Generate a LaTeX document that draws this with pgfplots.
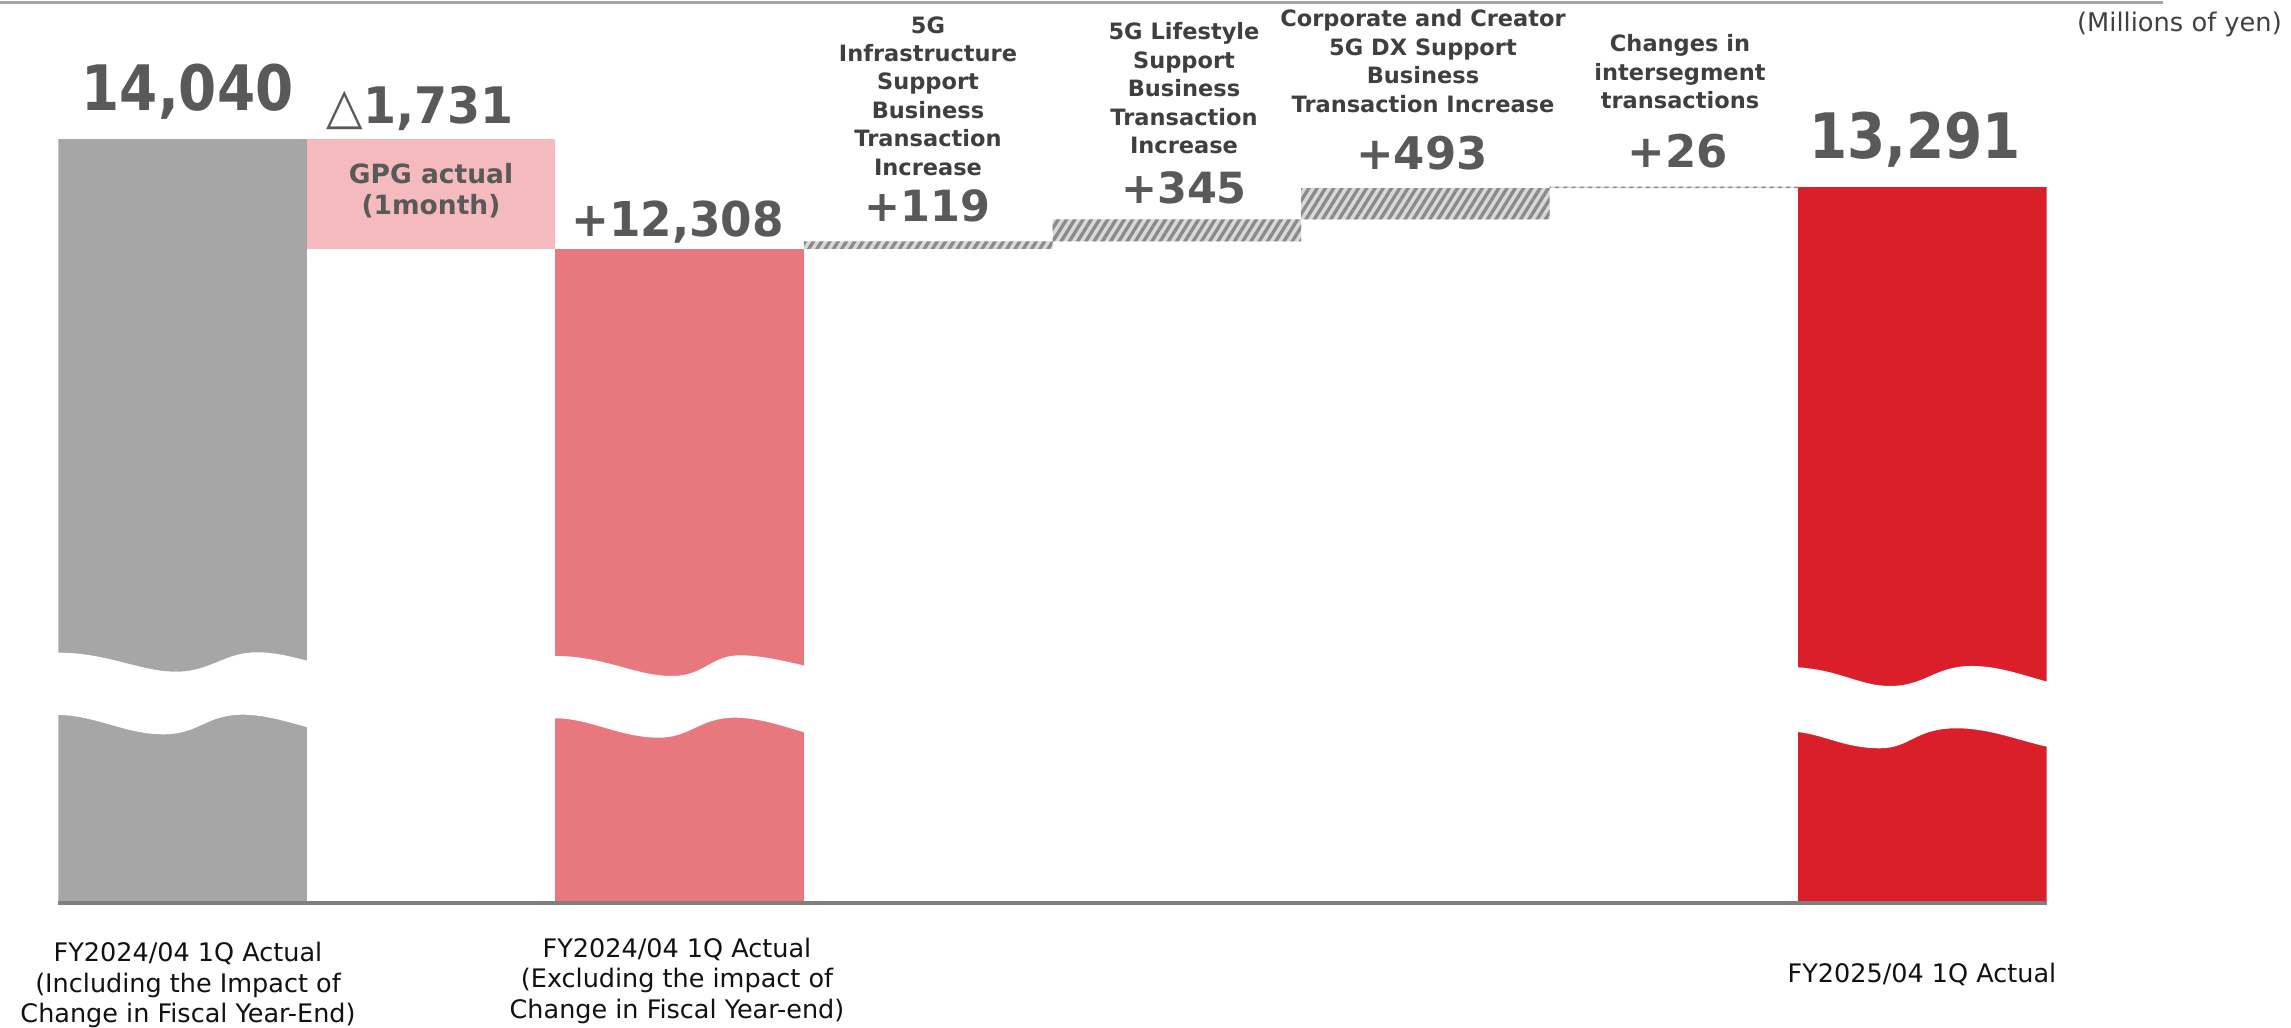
\documentclass[border=0pt]{standalone}
\usepackage{fontspec}
\setmainfont{DejaVu Sans}
\usepackage{graphicx}
\usepackage{pgfplots}
\usepackage{pgfplotstable}
\pgfplotsset{compat=1.18}
\usetikzlibrary{patterns.meta}

\definecolor{cgray}{HTML}{A6A6A6}
\definecolor{cpink}{HTML}{F4BABE}
\definecolor{csalmon}{HTML}{E8787E}
\definecolor{cred}{HTML}{DA1F2A}
\definecolor{hbg}{HTML}{D9D9D9}
\definecolor{hfg}{HTML}{8A8A8A}
\definecolor{numc}{HTML}{595959}
\definecolor{descc}{HTML}{3F3F3F}
\definecolor{axc}{HTML}{7F7F7F}
\definecolor{unitc}{HTML}{404040}
\definecolor{labc}{HTML}{111111}

\newcommand{\fs}[1]{\fontsize{#1bp}{#1bp}\selectfont}

\pgfplotstableread{
x base gray pink salmon hatch red
0 0     14040 0    0     0   0
1 12308 0     1731 0     0   0
2 0     0     0    12308 0   0
3 12308 0     0    0     119 0
4 12427 0     0    0     345 0
5 12772 0     0    0     493 0
6 13265 0     0    0     26  0
7 0     0     0    0     0   13291
}\data

\begin{document}
\begin{tikzpicture}
\path[use as bounding box] (0,0) rectangle (2291bp,1028bp);
\begin{axis}[
  at={(58.3bp,127bp)}, anchor=south west,
  scale only axis, width=1988.4bp, height=772.2bp,
  xmin=-0.5, xmax=7.5, ymin=2042, ymax=14200,
  hide axis, ybar stacked, bar width=1,
]
\addplot[draw=none, fill=none] table[x=x,y=base]{\data};
\addplot[draw=none, fill=cgray] table[x=x,y=gray]{\data};
\addplot[draw=none, fill=cpink] table[x=x,y=pink]{\data};
\addplot[draw=none, fill=csalmon] table[x=x,y=salmon]{\data};
\addplot[draw=none, fill=hbg, postaction={pattern={Lines[angle=58,distance=7bp,line width=3.3bp]}, pattern color=hfg}] table[x=x,y=hatch]{\data};
\addplot[draw=none, fill=cred] table[x=x,y=red]{\data};
\end{axis}

\begin{scope}[yshift=1028bp, x=1bp, y=-1bp]
% wave breaks
\fill[white] (57.8,652.7) .. controls (108,652.7) and (140,671.7) .. (176.3,671.7) .. controls (210,671.7) and (225,652.3) .. (256.7,652.3) .. controls (275,652.3) and (290,656.5) .. (307.4,660.7) -- (307.4,727.3) .. controls (290,722.5) and (265,714.7) .. (243.3,714.7) .. controls (205,714.7) and (200,734.3) .. (163,734.3) .. controls (125,734.3) and (95,715) .. (57.8,715) -- cycle;
\fill[white] (554.9,656) .. controls (605,656) and (635,676) .. (671.6,676) .. controls (705,676) and (710,655.3) .. (740.5,655.3) .. controls (760,655.3) and (785,661) .. (804.5,665.7) -- (804.5,732.3) .. controls (785,727) and (760,717.7) .. (734.8,717.7) .. controls (700,717.7) and (690,737.7) .. (659,737.7) .. controls (620,737.7) and (590,718.3) .. (554.9,718.3) -- cycle;
\fill[white] (1797.7,667.3) .. controls (1840,670) and (1860,686) .. (1890,686) .. controls (1925,686) and (1935,666) .. (1971.7,666) .. controls (2000,666) and (2025,676) .. (2047.3,681.7) -- (2047.3,746.7) .. controls (2020,741) and (1990,728.3) .. (1956.7,728.3) .. controls (1915,728.3) and (1910,748.3) .. (1880,748.3) .. controls (1845,748.3) and (1825,735) .. (1797.7,732) -- cycle;
% lines
\draw[axc, line width=4bp] (58.3,903) -- (2046.75,903);
\draw[cgray, line width=3bp] (0,2.5) -- (2163,2.5);
% big numbers
\tikzset{num/.style={anchor=base, inner sep=0pt, text=numc}}
\node[num, font=\bfseries\fs{62.7}] at (187.5,110.7) {\scalebox{0.875}[1]{14,040}};
\node[num, font=\bfseries\fs{50.3}] at (420,123.3) {\scalebox{0.945}[1]{{\mdseries △}1,731}};
\node[num, font=\bfseries\fs{48}] at (677.5,236.7) {\scalebox{0.944}[1]{+12,308}};
\node[num, font=\bfseries\fs{43}] at (927.5,221.7) {+119};
\node[num, font=\bfseries\fs{43}] at (1184,203.3) {+345};
\node[num, font=\bfseries\fs{45}] at (1422,170) {+493};
\node[num, font=\bfseries\fs{45}] at (1678,168) {+26};
\node[num, font=\bfseries\fs{62.7}] at (1915,158.5) {\scalebox{0.875}[1]{13,291}};
% GPG text
\node[num, font=\bfseries\fs{26.5}] at (431,183.3) {GPG actual};
\node[num, font=\bfseries\fs{26.5}] at (431,215) {(1month)};
% descriptions
\tikzset{desc/.style={anchor=base, inner sep=0pt, text=descc, font=\bfseries\fs{22.5}}}
\foreach \t [count=\i from 0] in {5G,Infrastructure,Support,Business,Transaction,Increase}
  \node[desc] at (928,33.3+\i*28.35) {\t};
\foreach \t [count=\i from 0] in {5G Lifestyle,Support,Business,Transaction,Increase}
  \node[desc] at (1184,40+\i*28.35) {\t};
\foreach \t [count=\i from 0] in {Corporate and Creator,5G DX Support,Business,Transaction Increase}
  \node[desc] at (1423,26.7+\i*28.6) {\t};
\foreach \t [count=\i from 0] in {Changes in,intersegment,transactions}
  \node[desc] at (1680,51.7+\i*28.35) {\t};
% unit
\node[anchor=base east, inner sep=0pt, text=unitc, font=\fs{25.7}] at (2282,32) {(Millions of yen)};
% category labels
\tikzset{lab/.style={anchor=base, inner sep=0pt, text=labc, font=\fs{25.5}}}
\foreach \t [count=\i from 0] in {{FY2024/04 1Q Actual},{(Including the Impact of},{Change in Fiscal Year-End)}}
  \node[lab] at (188,961.7+\i*30.5) {\t};
\foreach \t [count=\i from 0] in {{FY2024/04 1Q Actual},{(Excluding the impact of},{Change in Fiscal Year-end)}}
  \node[lab] at (677,957.5+\i*30.5) {\t};
\node[lab] at (1922,983) {FY2025/04 1Q Actual};
\end{scope}
\end{tikzpicture}
\end{document}
